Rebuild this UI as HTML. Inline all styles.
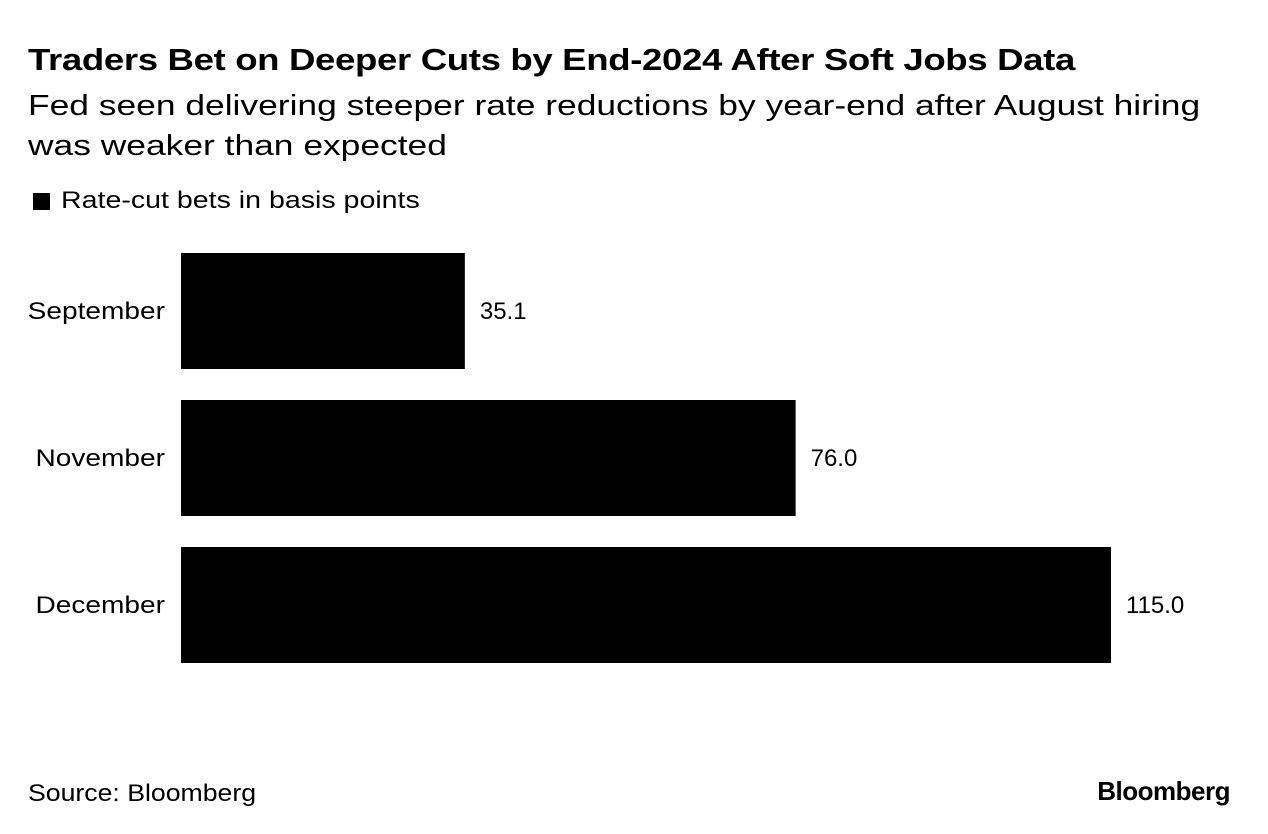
<!DOCTYPE html>
<html><head><meta charset="utf-8">
<style>
body{margin:0;width:1268px;height:834px;background:#fff;font-family:"Liberation Sans",Arial,sans-serif;color:#000;position:relative;overflow:hidden}
.t{position:absolute;white-space:nowrap;transform-origin:left top}
</style></head><body>
<div class="t" style="left:28px;top:42px;font-size:31px;font-weight:bold;letter-spacing:-0.3px;transform:scaleX(1.18)">Traders Bet on Deeper Cuts by End-2024 After Soft Jobs Data</div>
<div class="t" style="left:28px;top:86px;font-size:29px;line-height:40px;transform:scaleX(1.22)">Fed seen delivering steeper rate reductions by year-end after August hiring<br>was weaker than expected</div>
<div style="position:absolute;left:33px;top:193px;width:17px;height:17px;background:#000"></div>
<div class="t" style="left:61px;top:187px;font-size:24px;transform:scaleX(1.19)">Rate-cut bets in basis points</div>
<svg id="chart" width="1268" height="834" style="position:absolute;left:0;top:0"></svg>
<div class="t" style="left:28px;top:780px;font-size:24px;transform:scaleX(1.11)">Source: Bloomberg</div>
<div class="t" style="right:38px;top:776px;font-size:26px;font-weight:bold;letter-spacing:-0.5px">Bloomberg</div>
<script>
const categories = ["September","November","December"];
const values = [35.1,76.0,115.0];
const labels = ["35.1","76.0","115.0"];
const svg = document.getElementById('chart');
const NS = 'http://www.w3.org/2000/svg';
const x0 = 181, xScale = (1111-181)/115;
const yTop = 253, step = 147, bh = 116;
function xPos(v){return x0 + v*xScale;}
function yPos(i){return yTop + i*step;}
categories.forEach((c,i)=>{
  const r = document.createElementNS(NS,'rect');
  r.setAttribute('x',x0);
  r.setAttribute('y',yPos(i));
  r.setAttribute('width',xPos(values[i])-x0);
  r.setAttribute('height',bh);
  r.setAttribute('fill','#000');
  
  
  svg.appendChild(r);
  const cl = document.createElementNS(NS,'text');
  cl.setAttribute('x',165);
  cl.setAttribute('y',yPos(i)+bh/2+8);
  cl.setAttribute('text-anchor','end');
  cl.setAttribute('font-size','24');
  cl.setAttribute('transform','translate(165,0) scale(1.17,1) translate(-165,0)');
  cl.setAttribute('font-family','Liberation Sans, Arial, sans-serif');
  cl.textContent = c;
  
  
  svg.appendChild(cl);
  const vl = document.createElementNS(NS,'text');
  vl.setAttribute('x',xPos(values[i])+15);
  vl.setAttribute('y',yPos(i)+bh/2+8);
  vl.setAttribute('font-size','24');
  vl.setAttribute('font-family','Liberation Sans, Arial, sans-serif');
  vl.textContent = labels[i];
  
  
  svg.appendChild(vl);
});
</script>
</body></html>
